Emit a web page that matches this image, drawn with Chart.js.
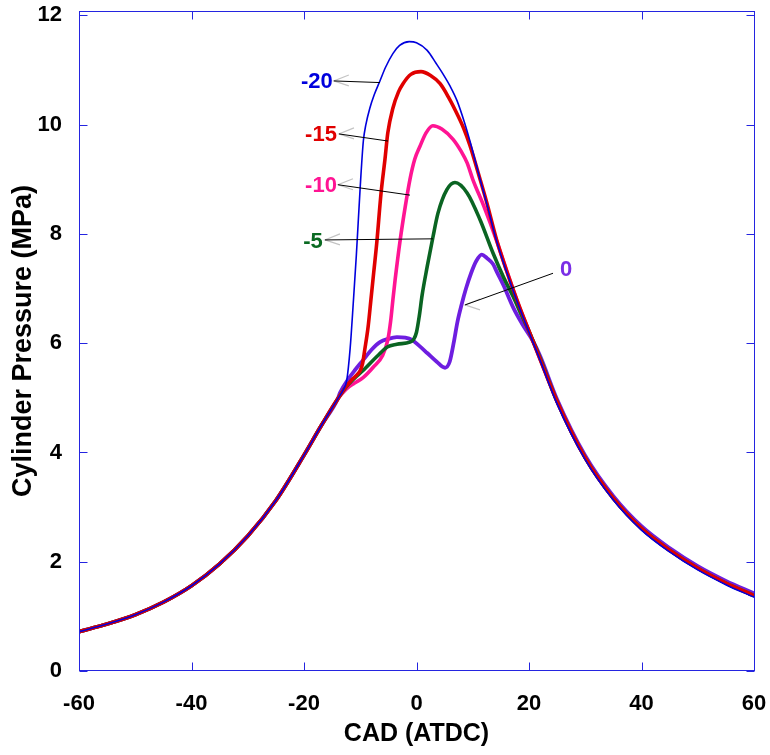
<!DOCTYPE html>
<html>
<head>
<meta charset="utf-8">
<title>Cylinder pressure</title>
<script src="https://cdn.jsdelivr.net/npm/chart.js@4"></script>
<style>
  html, body { margin: 0; padding: 0; background: #fff; }
  #wrap { width: 770px; height: 755px; }
</style>
</head>
<body>
<div id="wrap"><canvas id="c"></canvas></div>
<script>
// axis ticks
const xTickVals = [-60, -40, -20, 0, 20, 40, 60];
const yTickVals = [0, 2, 4, 6, 8, 10, 12];

// shared compression part (all cases)
const xComp = [-60, -55, -50, -45, -40, -35, -30, -25, -20, -17, -14];
const yComp = [0.72, 0.86, 1.03, 1.26, 1.56, 1.96, 2.47, 3.12, 3.95, 4.48, 4.98];

// shared expansion tail
const xTail = [25, 30, 35, 40, 45, 50, 55, 60];
const yTailBlue = [4.89, 3.87, 3.13, 2.58, 2.18, 1.85, 1.58, 1.35];
const yTail = [4.93, 3.90, 3.16, 2.61, 2.21, 1.88, 1.61, 1.38];
const yTailPurple = [4.97, 3.94, 3.20, 2.65, 2.25, 1.92, 1.65, 1.42];

// injection timing -20
const xBlue = [-13, -12.4, -11.8, -11.2, -10.7, -10.0, -9.45, -9.0, -8.3, -7.5, -6.5, -5.5, -4.2, -3.0, -1.3, 0, 1.9, 3.5, 4.7, 6.0, 7.2, 8.5, 9.5, 11.3, 12.5, 14.3, 16, 18, 20, 22];
const yBlue = [5.15, 5.32, 5.9, 6.8, 7.6, 8.87, 9.7, 10.0, 10.3, 10.55, 10.8, 11.05, 11.3, 11.45, 11.52, 11.5, 11.36, 11.12, 10.93, 10.7, 10.44, 10.05, 9.7, 9.0, 8.55, 7.85, 7.31, 6.73, 6.2, 5.68];

// -15
const xRed = [-12.7, -11.5, -10.6, -10.0, -9.6, -9.2, -8.6, -8.1, -7.6, -7.07, -6.3, -5.6, -5.1, -4.2, -3.2, -2.4, -1.0, 0.8, 2.5, 4.2, 5.7, 7.2, 8.4, 9.5, 11.3, 12.5, 14.3, 16, 18, 20, 22];
const yRed = [5.18, 5.33, 5.42, 5.5, 5.62, 5.88, 6.3, 6.8, 7.3, 7.83, 8.75, 9.37, 9.85, 10.3, 10.6, 10.75, 10.92, 10.97, 10.9, 10.75, 10.5, 10.2, 9.93, 9.62, 9.0, 8.57, 7.87, 7.33, 6.75, 6.22, 5.7];

// -10
const xPink = [-12.5, -11, -9.5, -7.7, -6.0, -5.1, -4.6, -4.2, -3.8, -2.9, -2.0, -1.16, -0.3, 0.6, 1.7, 2.9, 4.5, 6.5, 8.0, 9.0, 10.0, 12.0, 14.3, 16, 18, 20, 22];
const yPink = [5.16, 5.27, 5.37, 5.56, 5.78, 6.06, 6.4, 6.79, 7.16, 7.89, 8.5, 9.0, 9.37, 9.6, 9.85, 9.98, 9.92, 9.73, 9.5, 9.3, 9.0, 8.5, 7.86, 7.34, 6.74, 6.22, 5.7];

// -5
const xGreen = [-12.5, -11, -9.5, -7.0, -5.2, -3.5, -1.2, -0.5, 0.0, 0.5, 1.0, 1.9, 2.9, 3.82, 5.4, 6.84, 9.0, 11.3, 13.6, 15.5, 17.2, 18.5, 20, 22];
const yGreen = [5.2, 5.36, 5.5, 5.76, 5.93, 5.98, 6.02, 6.07, 6.2, 6.5, 6.88, 7.4, 7.93, 8.38, 8.81, 8.94, 8.75, 8.26, 7.65, 7.2, 6.85, 6.55, 6.22, 5.72];

// 0
const xPurple = [-13.6, -12, -11, -9.5, -8, -6.5, -5, -3.5, -2, -0.8, 0.5, 1.9, 3.6, 5.07, 5.9, 6.6, 7.3, 8.0, 8.8, 9.7, 10.6, 11.6, 12.5, 13.6, 14.3, 15.5, 17.2, 18.8, 20.7, 22];
const yPurple = [5.09, 5.36, 5.5, 5.69, 5.88, 6.02, 6.08, 6.11, 6.1, 6.06, 5.95, 5.82, 5.66, 5.55, 5.66, 6.0, 6.4, 6.7, 7.0, 7.28, 7.5, 7.62, 7.56, 7.45, 7.3, 7.05, 6.65, 6.35, 6.04, 5.76];

// curve labels: text, label centre, leader line from -> to (data units)
const noteText = ['-20', '-15', '-10', '-5', '0'];
const noteColor = ['#0000dd', '#e00000', '#ff1493', '#0a6a22', '#7a2ee6'];
const noteAt = [[-17.7, 10.78], [-16.98, 9.81], [-16.98, 8.88], [-18.4, 7.85], [26.58, 7.34]];
const noteFrom = [[-14.7, 10.80], [-13.78, 9.83], [-13.96, 8.90], [-16.27, 7.89], [24.27, 7.28]];
const noteTo = [[-6.49, 10.77], [-5.07, 9.70], [-1.16, 8.71], [2.93, 7.91], [8.62, 6.70]];

function pts(xs, ys) {
  return xs.map((v, i) => ({ x: v, y: ys[i] }));
}

const FONT = '"Liberation Sans", Arial, Helvetica, sans-serif';

// blue box with inward ticks on all four sides
const framePlugin = {
  id: 'frame',
  afterDraw(chart) {
    const { ctx, chartArea: a, scales: { x, y } } = chart;
    const L = Math.round(a.left) + 0.5, R = Math.round(a.right) + 0.5;
    const T = Math.round(a.top) + 0.5, B = Math.round(a.bottom) - 0.5;
    ctx.save();
    ctx.strokeStyle = '#2424e0';
    ctx.lineWidth = 1;
    ctx.strokeRect(L, T, R - L, B - T);
    ctx.beginPath();
    xTickVals.forEach(v => {
      const px = Math.round(x.getPixelForValue(v)) + 0.5;
      ctx.moveTo(px, B); ctx.lineTo(px, B - 8);
      ctx.moveTo(px, T); ctx.lineTo(px, T + 8);
    });
    yTickVals.forEach(v => {
      const py = Math.round(y.getPixelForValue(v)) + 0.5;
      ctx.moveTo(L, py); ctx.lineTo(L + 8, py);
      ctx.moveTo(R, py); ctx.lineTo(R - 8, py);
    });
    ctx.stroke();
    ctx.restore();
  }
};

// leader lines and labels for each curve
const notePlugin = {
  id: 'notes',
  afterDatasetsDraw(chart) {
    const { ctx, scales: { x, y } } = chart;
    ctx.save();
    noteText.forEach((t, i) => {
      const fx = x.getPixelForValue(noteFrom[i][0]), fy = y.getPixelForValue(noteFrom[i][1]);
      const tx = x.getPixelForValue(noteTo[i][0]), ty = y.getPixelForValue(noteTo[i][1]);
      // grey open arrow head
      const hx = i === 4 ? tx : fx, hy = i === 4 ? ty : fy;
      ctx.strokeStyle = '#c4c4c4';
      ctx.lineWidth = 1.2;
      ctx.beginPath();
      ctx.moveTo(hx + 15, hy - 6); ctx.lineTo(hx, hy); ctx.lineTo(hx + 15, hy + 5);
      ctx.stroke();
      ctx.strokeStyle = '#000';
      ctx.lineWidth = 1;
      ctx.beginPath();
      ctx.moveTo(fx, fy); ctx.lineTo(tx, ty);
      ctx.stroke();
      ctx.fillStyle = noteColor[i];
      ctx.font = 'bold 22px ' + FONT;
      ctx.textAlign = 'center';
      ctx.textBaseline = 'middle';
      ctx.fillText(t, x.getPixelForValue(noteAt[i][0]), y.getPixelForValue(noteAt[i][1]));
    });
    ctx.restore();
  }
};

const common = { pointRadius: 0, fill: false, cubicInterpolationMode: 'monotone' };

new Chart(document.getElementById('c'), {
  type: 'line',
  data: {
    datasets: [
      Object.assign({ label: '-20', data: pts(xComp.concat(xBlue, xTail), yComp.concat(yBlue, yTailBlue)), borderColor: '#0000dd', borderWidth: 1.6 }, common),
      Object.assign({ label: '-15', data: pts(xComp.concat(xRed, xTail), yComp.concat(yRed, yTail)), borderColor: '#e00000', borderWidth: 3.6 }, common),
      Object.assign({ label: '-5', data: pts(xComp.concat(xGreen, xTail), yComp.concat(yGreen, yTail)), borderColor: '#0a6422', borderWidth: 3.6 }, common),
      Object.assign({ label: '-10', data: pts(xComp.concat(xPink, xTail), yComp.concat(yPink, yTail)), borderColor: '#ff1493', borderWidth: 3.6 }, common),
      Object.assign({ label: '0', data: pts(xComp.concat(xPurple, xTail), yComp.concat(yPurple, yTailPurple)), borderColor: '#6e1ee0', borderWidth: 3.8 }, common)
    ]
  },
  options: {
    responsive: true,
    maintainAspectRatio: false,
    animation: false,
    layout: { padding: { top: 11, right: 16, left: 0, bottom: 0 } },
    plugins: { legend: { display: false }, tooltip: { enabled: false } },
    scales: {
      x: {
        type: 'linear', min: -60, max: 60,
        grid: { display: false, drawTicks: false },
        border: { display: false },
        afterBuildTicks: s => { s.ticks = xTickVals.map(v => ({ value: v })); },
        afterFit: s => { s.height = 84; s.paddingLeft = 0; s.paddingRight = 0; },
        ticks: { color: '#000', padding: 20, maxRotation: 0, font: { family: FONT, size: 22, weight: 'bold' } },
        title: { display: true, text: 'CAD (ATDC)', color: '#000', padding: { top: 0, bottom: 6 }, font: { family: FONT, size: 25, weight: 'bold' } }
      },
      y: {
        type: 'linear', min: 0, max: 12.08,
        grid: { display: false, drawTicks: false },
        border: { display: false },
        afterBuildTicks: s => { s.ticks = yTickVals.map(v => ({ value: v })); },
        afterFit: s => { s.width = 79; s.paddingTop = 0; s.paddingBottom = 0; },
        ticks: { color: '#000', padding: 17, font: { family: FONT, size: 22, weight: 'bold' } },
        title: { display: true, text: 'Cylinder Pressure (MPa)', color: '#000', padding: { top: 7, bottom: 0 }, font: { family: FONT, size: 27, weight: 'bold' } }
      }
    }
  },
  plugins: [notePlugin, framePlugin]
});
</script>
</body>
</html>
